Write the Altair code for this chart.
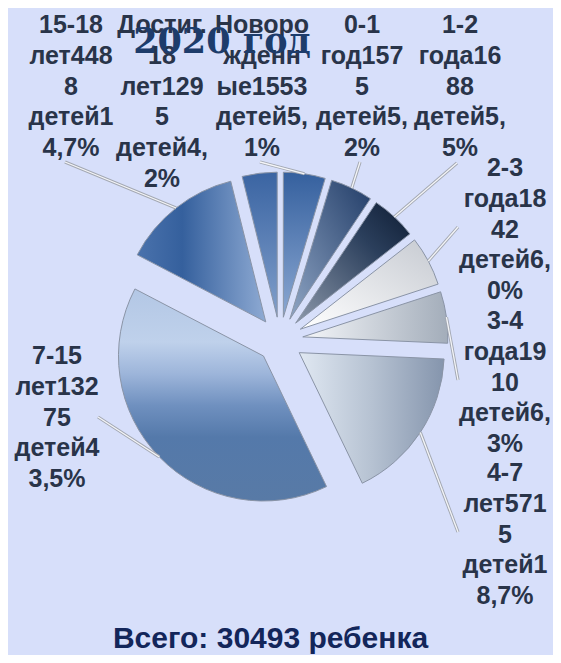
import altair as alt
import pandas as pd

# ---------------- data ----------------
categories = ["Новорожденные", "0-1 год", "1-2 года", "2-3 года", "3-4 года",
              "4-7 лет", "7-15 лет", "15-18 лет", "Достиг. 18 лет"]
children = [1553, 1575, 1688, 1842, 1910, 5715, 13275, 4488, 1295]
label_lines = [
    ["Новоро", "жденн", "ые1553", "детей5,", "1%"],
    ["0-1", "год157", "5", "детей5,", "2%"],
    ["1-2", "года16", "88", "детей5,", "5%"],
    ["2-3", "года18", "42", "детей6,", "0%"],
    ["3-4", "года19", "10", "детей6,", "3%"],
    ["4-7", "лет571", "5", "детей1", "8,7%"],
    ["7-15", "лет132", "75", "детей4", "3,5%"],
    ["15-18", "лет448", "8", "детей1", "4,7%"],
    ["Достиг.", "18", "лет129", "5", "детей4,", "2%"],
]
title_text = "2020 год"
total_text = "Всего: 30493 ребенка"

# ---------------- layout / style ----------------
W, H = 545, 647
CX, CY, R, EXPLODE = 272, 332, 145, 23
BG = "#d7dffa"
LABEL_COLOR = "#293449"

label_pos = {  # centre x, first baseline y
    "Новорожденные": (254, 25), "0-1 год": (354, 25), "1-2 года": (452, 25),
    "2-3 года": (497, 168), "3-4 года": (497, 321), "4-7 лет": (497, 473),
    "7-15 лет": (49, 356), "15-18 лет": (63, 25), "Достиг. 18 лет": (154, 25),
}
leader_end = {
    "Новорожденные": (252, 154), "0-1 год": (352, 154), "1-2 года": (449, 155),
    "2-3 года": (450, 219), "3-4 года": (450, 372), "4-7 лет": (450, 524),
    "7-15 лет": (90, 409), "15-18 лет": (57, 154), "Достиг. 18 лет": (None, None),
}


def grad(stops, x1=0, y1=0, x2=0, y2=1):
    return alt.LinearGradient(
        gradient="linear",
        stops=[alt.GradientStop(offset=o, color=c) for o, c in stops],
        x1=x1, y1=y1, x2=x2, y2=y2)


fills = {
    "Новорожденные": grad([(0, "#35609e"), (1, "#8ba8d2")]),
    "0-1 год": grad([(0, "#223d68"), (1, "#8fa5c4")], 1, 0, 0, 1),
    "1-2 года": grad([(0, "#0e1c33"), (0.35, "#2b3f5c"), (1, "#8c98aa")], 1, 0, 0, 1),
    "2-3 года": grad([(0, "#c6cad1"), (1, "#ffffff")], 1, 0, 0, 1),
    "3-4 года": grad([(0, "#f4f6f9"), (1, "#a3adba")], 0, 0, 1, 0),
    "4-7 лет": grad([(0, "#e0e8f2"), (0.5, "#b6c2d2"), (1, "#8595ad")], 0, 0, 1, 0),
    "7-15 лет": grad([(0, "#b3c7e5"), (0.25, "#bfd1eb"), (0.4, "#9db5da"),
                      (0.55, "#6f90bf"), (0.7, "#5479aa"), (1, "#587aa6")]),
    "15-18 лет": grad([(0, "#4a72ac"), (0.35, "#35609d"), (1, "#8eaad3")], 0, 0, 1, 0),
    "Достиг. 18 лет": grad([(0, "#3a64a2"), (1, "#819fcb")]),
}

df = pd.DataFrame({
    "cat": categories,
    "value": children,
    "order": list(range(len(categories))),
    "label": ["\n".join(l) for l in label_lines],
})
df["lx"] = [label_pos[c][0] for c in categories]
df["ly"] = [label_pos[c][1] for c in categories]
df["ex"] = [leader_end[c][0] for c in categories]
df["ey"] = [leader_end[c][1] for c in categories]

base = (
    alt.Chart(df)
    .transform_joinaggregate(total="sum(value)")
    .transform_window(cum="sum(value)", sort=[alt.SortField("order")], frame=[None, 0])
    .transform_calculate(
        a0="2*PI*(datum.cum - datum.value)/datum.total",
        a1="2*PI*datum.cum/datum.total",
        mid="PI*(2*datum.cum - datum.value)/datum.total",
    )
    .transform_calculate(
        cx=f"{CX} + {EXPLODE}*sin(datum.mid)",
        cy=f"{CY} - {EXPLODE}*cos(datum.mid)",
        ox=f"{CX} + {EXPLODE + R}*sin(datum.mid)",
        oy=f"{CY} - {EXPLODE + R}*cos(datum.mid)",
    )
)

layers = []
for c in categories:
    layers.append(
        base.transform_filter(alt.datum.cat == c)
        .mark_arc(radius=R, fill=fills[c], stroke="#8a94a6", strokeWidth=1)
        .encode(
            x=alt.X("cx:Q", scale=None, axis=None),
            y=alt.Y("cy:Q", scale=None, axis=None),
            theta=alt.Theta("a0:Q", scale=None, stack=None),
            theta2="a1:Q",
        )
    )

lead = base.transform_filter("isValid(datum.ex)")
for col, w in (("#a3a8b2", 3.2), ("#f4f5f8", 1.3)):
    layers.append(
        lead.mark_rule(color=col, strokeWidth=w).encode(
            x=alt.X("ox:Q", scale=None, axis=None),
            y=alt.Y("oy:Q", scale=None, axis=None),
            x2="ex:Q",
            y2="ey:Q",
        )
    )

layers.append(
    alt.Chart(df).mark_text(
        lineBreak="\n", font="Liberation Sans", fontSize=25, fontWeight="bold",
        align="center", baseline="alphabetic", lineHeight=30.75, color=LABEL_COLOR,
    ).encode(
        x=alt.X("lx:Q", scale=None, axis=None),
        y=alt.Y("ly:Q", scale=None, axis=None),
        text="label:N",
    )
)

layers.append(
    alt.Chart(pd.DataFrame({"t": [title_text]})).mark_text(
        font="DejaVu Serif", fontSize=35, fontWeight="bold", color="#1d3c6b",
        align="center", baseline="alphabetic",
    ).encode(text="t:N", x=alt.value(214), y=alt.value(45))
)

layers.append(
    alt.Chart(pd.DataFrame({"t": [total_text]})).mark_text(
        font="Liberation Sans", fontSize=30, fontWeight="bold", color="#13265a",
        align="center", baseline="alphabetic",
    ).encode(text="t:N", x=alt.value(262.5), y=alt.value(640))
)

chart = (
    alt.layer(*layers)
    .properties(width=W, height=H, background=BG, padding=0,
                autosize=alt.AutoSizeParams(type="none"))
    .configure_view(stroke=None)
)

chart.save("out.html", embed_options={"renderer": "svg", "actions": False})
